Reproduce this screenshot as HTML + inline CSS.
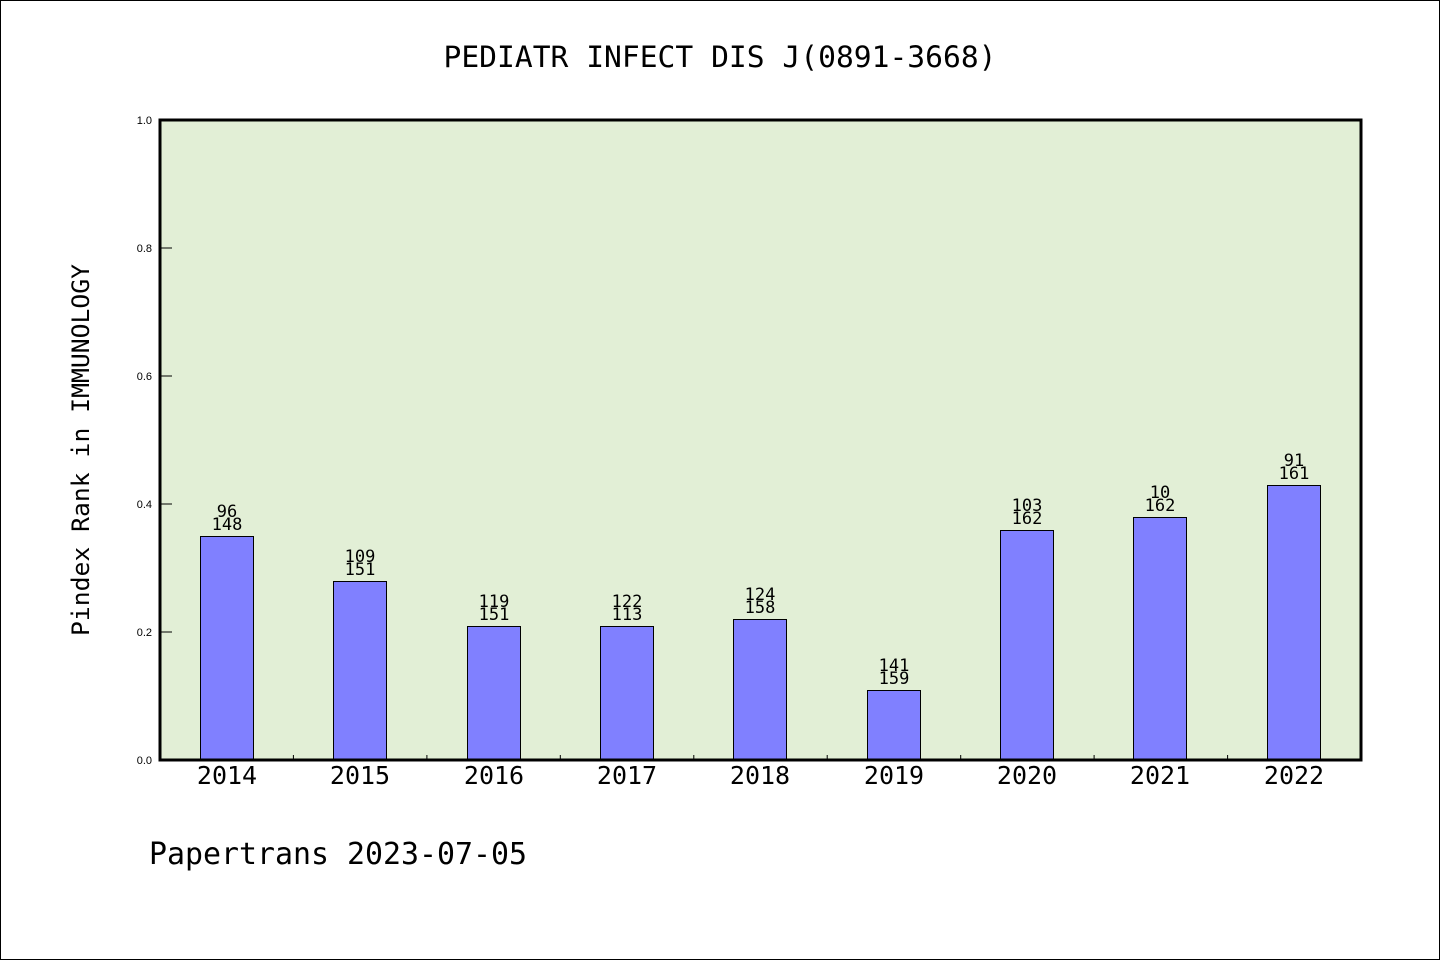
<!DOCTYPE html>
<html><head><meta charset="utf-8"><style>
html,body{margin:0;padding:0;background:#fff;}
svg{display:block;}
text{font-family:"DejaVu Sans Mono","Liberation Mono",monospace;fill:#000;}
.tk{font-family:"Liberation Sans","DejaVu Sans",sans-serif;}
</style></head><body>
<svg width="1440" height="960" viewBox="0 0 1440 960" xmlns="http://www.w3.org/2000/svg">
<rect x="0.5" y="0.5" width="1439" height="959" fill="#fff" stroke="#000" stroke-width="1"/>
<text x="720" y="67" font-size="29" text-anchor="middle" textLength="553" lengthAdjust="spacingAndGlyphs">PEDIATR INFECT DIS J(0891-3668)</text>
<rect x="160" y="120" width="1201" height="640" fill="#e2efd6"/>
<g stroke="#000" stroke-width="1">
<line x1="160" y1="632" x2="172" y2="632"/>
<line x1="160" y1="504" x2="172" y2="504"/>
<line x1="160" y1="376" x2="172" y2="376"/>
<line x1="160" y1="248" x2="172" y2="248"/>
<line x1="293.4" y1="755" x2="293.4" y2="760"/>
<line x1="426.9" y1="755" x2="426.9" y2="760"/>
<line x1="560.3" y1="755" x2="560.3" y2="760"/>
<line x1="693.8" y1="755" x2="693.8" y2="760"/>
<line x1="827.2" y1="755" x2="827.2" y2="760"/>
<line x1="960.7" y1="755" x2="960.7" y2="760"/>
<line x1="1094.1" y1="755" x2="1094.1" y2="760"/>
<line x1="1227.6" y1="755" x2="1227.6" y2="760"/>
</g>
<g font-size="11" text-anchor="end" class="tk">
<text class="tk" x="152" y="764">0.0</text>
<text class="tk" x="152" y="636">0.2</text>
<text class="tk" x="152" y="508">0.4</text>
<text class="tk" x="152" y="380">0.6</text>
<text class="tk" x="152" y="252">0.8</text>
<text class="tk" x="152" y="124">1.0</text>
</g>
<g fill="#8080ff" stroke="#000" stroke-width="1">
<rect x="200.5" y="536.5" width="53" height="224"/>
<rect x="333.5" y="581.5" width="53" height="179"/>
<rect x="467.5" y="626.5" width="53" height="134"/>
<rect x="600.5" y="626.5" width="53" height="134"/>
<rect x="733.5" y="619.5" width="53" height="141"/>
<rect x="867.5" y="690.5" width="53" height="70"/>
<rect x="1000.5" y="530.5" width="53" height="230"/>
<rect x="1133.5" y="517.5" width="53" height="243"/>
<rect x="1267.5" y="485.5" width="53" height="275"/>
</g>
<g font-size="17" text-anchor="middle">
<text x="227" y="517">96</text><text x="227" y="530">148</text>
<text x="360" y="562">109</text><text x="360" y="575">151</text>
<text x="494" y="607">119</text><text x="494" y="620">151</text>
<text x="627" y="607">122</text><text x="627" y="620">113</text>
<text x="760" y="600">124</text><text x="760" y="613">158</text>
<text x="894" y="671">141</text><text x="894" y="684">159</text>
<text x="1027" y="511">103</text><text x="1027" y="524">162</text>
<text x="1160" y="498">10</text><text x="1160" y="511">162</text>
<text x="1294" y="466">91</text><text x="1294" y="479">161</text>
</g>
<rect x="160" y="120" width="1201" height="640" fill="none" stroke="#000" stroke-width="3"/>
<g font-size="25" text-anchor="middle">
<text x="227" y="784">2014</text>
<text x="360" y="784">2015</text>
<text x="494" y="784">2016</text>
<text x="627" y="784">2017</text>
<text x="760" y="784">2018</text>
<text x="894" y="784">2019</text>
<text x="1027" y="784">2020</text>
<text x="1160" y="784">2021</text>
<text x="1294" y="784">2022</text>
</g>
<text transform="translate(89,450) rotate(-90)" font-size="24" text-anchor="middle" textLength="372" lengthAdjust="spacingAndGlyphs">Pindex Rank in IMMUNOLOGY</text>
<text x="149" y="864" font-size="30" textLength="378" lengthAdjust="spacingAndGlyphs">Papertrans 2023-07-05</text>
</svg>
</body></html>
